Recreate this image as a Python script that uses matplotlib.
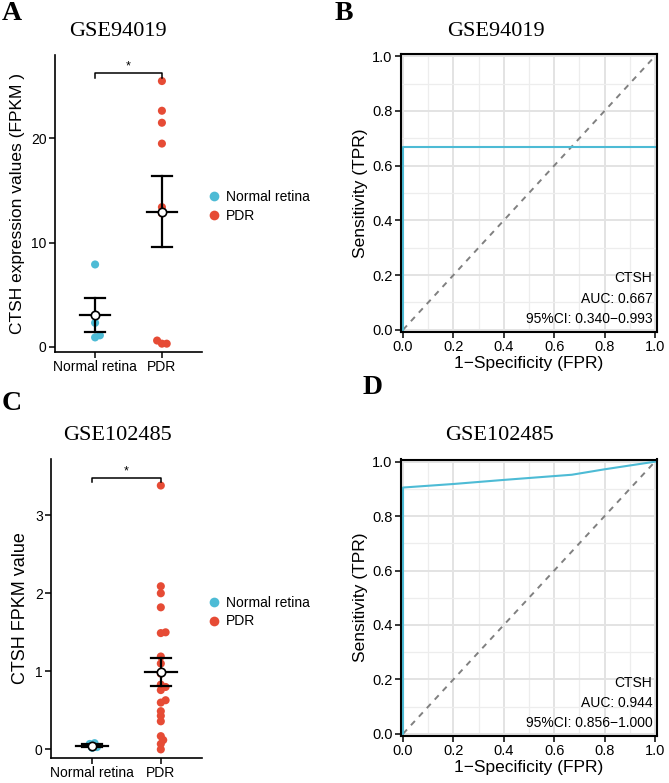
import numpy as np
import matplotlib
matplotlib.use("Agg")
import matplotlib.pyplot as plt
from matplotlib.lines import Line2D

plt.rcParams['font.family'] = ['Liberation Sans', 'DejaVu Sans']

# ---- data ----
groups = ['Normal retina', 'PDR']
colors = ['#4DBBD5', '#E64B35']

gse94019_normal = [7.9, 2.3, 1.1, 0.9]
gse94019_pdr = [25.5, 22.65, 21.5, 19.5, 13.4, 12.8, 0.6, 0.3, 0.3]

gse102485_normal = [0.08, 0.07, 0.02, 0.03]
gse102485_pdr = [3.38, 2.09, 2.0, 1.82, 1.50, 1.49, 1.19, 1.10, 0.97, 0.83, 0.80,
                 0.76, 0.63, 0.60, 0.49, 0.43, 0.36, 0.17, 0.12, 0.07, 0.0]

roc_b_fpr = [0.0, 0.0, 1.0]
roc_b_tpr = [0.0, 0.667, 0.667]
roc_d_fpr = [0.0, 0.0, 0.2, 0.4, 0.67, 0.8, 1.0]
roc_d_tpr = [0.0, 0.905, 0.918, 0.933, 0.952, 0.972, 1.0]

roc_b_text = ['CTSH', 'AUC: 0.667', '95%CI: 0.340\u22120.993']
roc_d_text = ['CTSH', 'AUC: 0.944', '95%CI: 0.856\u22121.000']

W, H = 669, 783
fig = plt.figure(figsize=(W / 100, H / 100), dpi=100)


def px_axes(l, t, r, b):
    return fig.add_axes([l / W, 1 - b / H, (r - l) / W, (b - t) / H])


def swarm(ax, xc, vals, d):
    # simple beeswarm in pixel space, returns x positions in data units
    pts = ax.transData.transform(np.column_stack([np.full(len(vals), xc), vals]))
    placed = []
    xs = np.zeros(len(vals))
    for i in np.argsort(vals):
        y = pts[i, 1]
        for k in [0, 1, -1, 2, -2, 3, -3, 4, -4]:
            x = pts[i, 0] + k * 0.3 * d
            if all(np.hypot(x - px, y - py) >= 0.5 * d for px, py in placed):
                break
        placed.append((x, y))
        xs[i] = ax.transData.inverted().transform((x, y))[0]
    return xs


def dot_panel(ax, normal, pdr, ylim, yticks, ylabel, bracket_y, legend_y, ylsize):
    ax.set_xlim(0.4, 2.6)
    ax.set_ylim(*ylim)
    ax.set_yticks(yticks)
    ax.set_xticks([1, 2])
    ax.set_xticklabels(groups)
    for s in ['top', 'right']:
        ax.spines[s].set_visible(False)
    for s in ['left', 'bottom']:
        ax.spines[s].set_linewidth(1.2)
    ax.tick_params(labelsize=10, length=4, width=1.1, colors='black', pad=2)
    ax.set_ylabel(ylabel, fontsize=ylsize)
    for i, vals in enumerate([normal, pdr]):
        vals = np.array(vals)
        xs = swarm(ax, i + 1, vals, 8)
        ax.scatter(xs, vals, s=34, color=colors[i], edgecolors='none', zorder=2,
                   label=groups[i])
        m = vals.mean()
        se = vals.std(ddof=1) / np.sqrt(len(vals))
        ax.plot([i + 1, i + 1], [m - se, m + se], color='black', lw=1.6, zorder=3)
        for yy in (m - se, m + se):
            ax.plot([i + 1 - 0.15, i + 1 + 0.15], [yy, yy], color='black', lw=1.6, zorder=3)
        ax.plot([i + 1 - 0.23, i + 1 + 0.23], [m, m], color='black', lw=1.6, zorder=3)
        ax.plot(i + 1, m, 'o', ms=6, mfc='white', mec='black', mew=1.2, zorder=4)
    top, tick = bracket_y
    ax.plot([1, 1, 2, 2], [tick, top, top, tick], color='black', lw=1.1, clip_on=False)
    ax.text(1.5, top, '*', ha='center', va='bottom', fontsize=9)
    handles = [Line2D([], [], marker='o', ls='', ms=7, mfc=c, mec='none') for c in colors]
    ax.legend(handles, groups, loc='center left', bbox_to_anchor=(208 / W, legend_y),
              bbox_transform=fig.transFigure, frameon=False, fontsize=10,
              handlelength=0.8, handletextpad=0.5, labelspacing=0.35, borderpad=0,
              borderaxespad=0)


def roc_panel(ax, fpr, tpr, labels):
    ax.set_xlim(-0.008, 1.008)
    ax.set_ylim(-0.008, 1.008)
    ticks = np.arange(0, 1.01, 0.2)
    ax.set_xticks(ticks)
    ax.set_yticks(ticks)
    ax.set_xticks(np.arange(0.1, 1.0, 0.2), minor=True)
    ax.set_yticks(np.arange(0.1, 1.0, 0.2), minor=True)
    ax.xaxis.set_major_formatter(plt.FormatStrFormatter('%.1f'))
    ax.yaxis.set_major_formatter(plt.FormatStrFormatter('%.1f'))
    ax.grid(which='major', color='#E3E3E3', lw=1.4)
    ax.grid(which='minor', color='#EDEDED', lw=0.9)
    ax.tick_params(which='minor', length=0)
    ax.tick_params(which='major', labelsize=10.5, length=4, width=1.1, pad=2)
    ax.set_axisbelow(True)
    for s in ax.spines.values():
        s.set_linewidth(1.5)
    ax.plot([0, 1], [0, 1], ls=(0, (3, 3)), color='#808080', lw=1.4)
    ax.plot(fpr, tpr, color='#4DBBD5', lw=1.5)
    ax.set_xlabel('1\u2212Specificity (FPR)', fontsize=12.5, labelpad=1)
    ax.set_ylabel('Sensitivity (TPR)', fontsize=12.5, labelpad=3)
    for j, t in enumerate(labels):
        ax.text(0.99, 0.188 - j * 0.075, t, ha='right', va='center', fontsize=10)


axA = px_axes(55, 55, 202, 352)
dot_panel(axA, gse94019_normal, gse94019_pdr, (-0.5, 28), [0, 10, 20],
          'CTSH expression values (FPKM )', (26.3, 25.8), 1 - 206.5 / H, 12.5)

axC = px_axes(51, 459, 202, 758)
dot_panel(axC, gse102485_normal, gse102485_pdr, (-0.11, 3.72), [0, 1, 2, 3],
          'CTSH FPKM value', (3.48, 3.42), 1 - 612 / H, 13)

axB = px_axes(401, 54, 657, 332)
roc_panel(axB, roc_b_fpr, roc_b_tpr, roc_b_text)

axD = px_axes(401, 459.5, 657, 736)
roc_panel(axD, roc_d_fpr, roc_d_tpr, roc_d_text)

serif = ['Liberation Serif', 'DejaVu Serif']
for txt, x, y in [('GSE94019', 118, 32), ('GSE94019', 496, 32),
                  ('GSE102485', 118, 436), ('GSE102485', 500, 435)]:
    fig.text(x / W, 1 - y / H, txt, ha='center', va='center', fontsize=16, family=serif)
for txt, x, y in [('A', 12, 14), ('B', 344, 14), ('C', 12, 403), ('D', 373, 388)]:
    fig.text(x / W, 1 - y / H, txt, ha='center', va='center', fontsize=20,
             fontweight='bold', family=serif)

fig.savefig('out.png', dpi=100)
